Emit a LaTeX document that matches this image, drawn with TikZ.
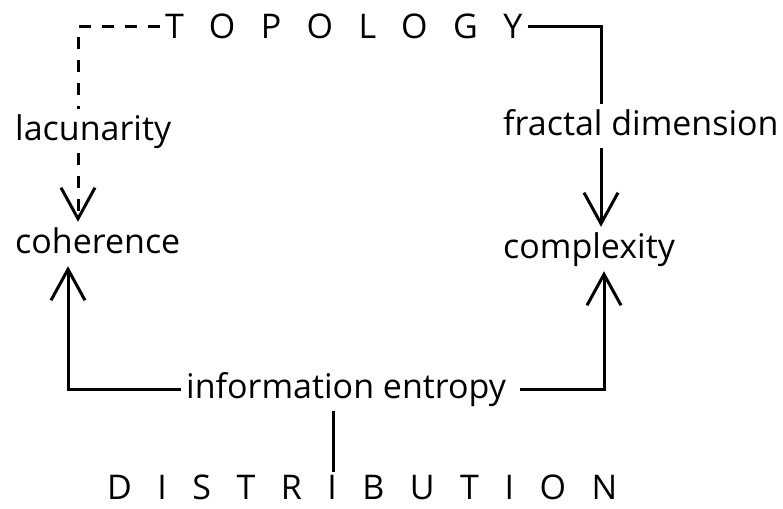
\documentclass[tikz,border=0pt]{standalone}
\usepackage{fontspec}
\setmainfont{Open Sans}
\usepackage{tikz}
\usetikzlibrary{arrows.meta, positioning}

\begin{document}
\begin{tikzpicture}[x=1pt, y=-1pt]
		\tikzset{
			word/.style={font=\fontsize{34}{40}\selectfont, inner sep=5pt, anchor=base west,
			text height=26pt, text depth=8pt, fill=white},
			caps/.style={word, text height=24pt, text depth=0pt,
			font=\fontsize{34}{40}\selectfont\addfontfeature{LetterSpace=75}},
			link/.style={line width=3pt},
			dashlink/.style={link, dash pattern=on 12pt off 11pt},
			arr/.style={-{Straight Barb[length=31pt, width=34pt, line width=3pt]}}
		}
		\useasboundingbox (0,0) rectangle (783,508);

		\node[caps] (topo) at (160,39) {TOPOLOGY};
		\node[word] (lac) at (10,140) {lacunarity};
		\node[word] (coh) at (10,253) {coherence};
		\node[word] (frac) at (498,135) {fractal dimension};
		\node[word] (cplx) at (498,258) {complexity};
		\node[word] (info) at (181,398) {information entropy};
		\node[caps, inner ysep=3pt] (dist) at (102,499) {DISTRIBUTION};

		\coordinate (tl) at (78,28);
		\coordinate (tr) at (601,26);
		\coordinate (bl) at (68,389);
		\coordinate (br) at (604,389);

		\draw[dashlink] (topo.west) -| (tl |- lac.north);
		\draw[dashlink, arr] (tl |- lac.south) -- (tl |- coh.north);
		\draw[link] (topo.east) -| (tr |- frac.north);
		\draw[link, arr] (tr |- frac.south) -- (tr |- cplx.north);

		\draw[link, arr] (info.west) -- (bl) -- (bl |- coh.south);
		\draw[link, arr] ([xshift=9pt]info.east) -- (br) -- (br |- cplx.south);
		\draw[link] (333,0 |- info.south) -- (333,0 |- dist.north);

	\end{tikzpicture}
\end{document}
